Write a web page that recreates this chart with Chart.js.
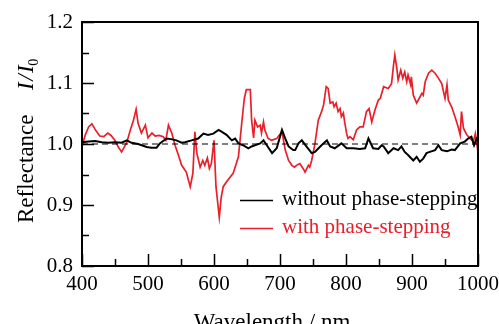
<!DOCTYPE html>
<html>
<head>
<meta charset="utf-8">
<script src="https://cdn.jsdelivr.net/npm/chart.js@4.4.1/dist/chart.umd.min.js"></script>
<style>
  html, body { margin: 0; padding: 0; background: #fff; }
  #wrap { width: 499px; height: 324px; }
</style>
</head>
<body>
<div id="wrap"><canvas id="reflChart" width="499" height="324"></canvas></div>
<script>
// wavelength axis / reflectance axis
var xTicks = [400, 500, 600, 700, 800, 900, 1000];
var yTicks = [0.8, 0.9, 1.0, 1.1, 1.2];

var seriesNames = ['without phase-stepping', 'with phase-stepping'];

// without phase-stepping (black)
var wlBlack = [400, 410, 420, 430, 440, 450, 460, 468, 475, 485, 498, 505, 513, 518, 528, 535, 543, 551, 556, 566,
    576, 584, 591, 599, 607, 612, 619, 627, 632, 637, 644, 652, 657, 662, 670, 675, 680, 688, 695, 703,
    708, 713, 720, 723, 728, 733, 740, 748, 753, 761, 771, 776, 783, 793, 801, 811, 821, 829, 834, 841,
    849, 854, 857, 864, 872, 879, 884, 889, 894, 902, 907, 912, 917, 922, 927, 935, 940, 945, 953, 960,
    965, 973, 980, 985, 990, 994, 998, 1000];
var reflBlack = [1.003, 1.004, 1.005, 1.003, 1.002, 1.003, 1.002, 1.006, 1.002, 1.000, 0.995, 0.994, 0.994, 1.001, 1.009, 1.008, 1.006, 1.002, 1.003, 1.006,
    1.009, 1.017, 1.015, 1.017, 1.023, 1.020, 1.015, 1.006, 1.009, 1.001, 0.998, 0.993, 0.996, 0.998, 1.001, 1.006, 0.998, 0.985, 0.993, 1.023,
    1.009, 0.996, 0.990, 0.990, 1.001, 1.006, 0.996, 0.985, 0.987, 0.996, 1.006, 0.996, 0.993, 1.001, 0.993, 0.993, 0.992, 0.993, 1.009, 0.993,
    0.992, 0.998, 0.996, 0.985, 0.993, 0.990, 0.996, 0.987, 0.982, 0.973, 0.979, 0.971, 0.976, 0.985, 0.987, 0.990, 0.998, 0.990, 0.988, 0.991,
    0.990, 1.001, 1.004, 1.009, 1.012, 0.998, 1.009, 1.006];

// with phase-stepping (red)
var wlRed = [400, 405, 410, 415, 421, 427, 433, 439, 444, 450, 455, 460, 464, 468, 473, 478, 482, 485, 490, 496,
    500, 506, 511, 517, 523, 527, 531, 536, 541, 546, 551, 558, 564, 568, 571, 574, 579, 583, 586, 590,
    593, 596, 600, 603, 606, 608, 611, 614, 619, 624, 629, 633, 637, 642, 646, 649, 655, 657, 660, 662,
    666, 670, 672, 675, 677, 682, 687, 695, 703, 708, 713, 718, 722, 725, 730, 735, 738, 743, 745, 748,
    753, 758, 763, 766, 770, 773, 776, 780, 782, 785, 788, 791, 793, 796, 798, 801, 803, 806, 811, 816,
    821, 826, 831, 835, 839, 844, 849, 852, 857, 864, 869, 872, 874, 877, 879, 883, 886, 889, 892, 894,
    898, 899, 902, 907, 911, 915, 917, 920, 925, 930, 935, 940, 945, 950, 953, 955, 960, 965, 970, 973,
    975, 978, 983, 988, 993, 996, 1000];
var reflRed = [0.996, 1.015, 1.028, 1.033, 1.022, 1.013, 1.012, 1.018, 1.014, 1.006, 0.995, 0.987, 0.995, 1.003, 1.022, 1.039, 1.057, 1.034, 1.018, 1.031,
    1.010, 1.018, 1.013, 1.014, 1.012, 1.006, 1.031, 1.018, 0.998, 0.982, 0.965, 0.954, 0.930, 0.952, 1.020, 0.985, 0.962, 0.973, 0.965, 0.977,
    0.960, 0.968, 1.006, 0.930, 0.900, 0.880, 0.913, 0.930, 0.938, 0.945, 0.952, 0.965, 0.979, 1.034, 1.075, 1.089, 1.089, 1.039, 1.010, 1.039,
    1.028, 1.031, 1.018, 1.036, 1.023, 1.009, 1.006, 1.009, 1.020, 0.990, 0.973, 0.965, 0.962, 0.965, 0.968, 0.960, 0.954, 0.965, 0.962, 0.973,
    1.001, 1.039, 1.053, 1.064, 1.094, 1.091, 1.067, 1.069, 1.061, 1.067, 1.053, 1.058, 1.045, 1.051, 1.036, 1.017, 1.009, 1.012, 1.007, 1.023,
    1.028, 1.028, 1.053, 1.058, 1.036, 1.056, 1.072, 1.075, 1.094, 1.091, 1.099, 1.129, 1.146, 1.124, 1.105, 1.121, 1.108, 1.118, 1.102, 1.113,
    1.097, 1.110, 1.080, 1.067, 1.075, 1.083, 1.080, 1.102, 1.116, 1.121, 1.116, 1.108, 1.099, 1.075, 1.097, 1.072, 1.061, 1.045, 1.028, 1.015,
    1.053, 1.026, 1.015, 1.009, 1.004, 1.017, 0.987];

// dashed reference line at I/I0 = 1
var wlUnity = [400, 1000];
var reflUnity = [1.0, 1.0];

var RED = '#e8202a';
var SERIF = '"Liberation Serif", "DejaVu Serif", serif';

function toPoints(xs, ys) {
    return xs.map(function (x, i) { return { x: x, y: ys[i] }; });
}

// inward ticks, frame, axis titles and legend
var framePlugin = {
    id: 'frame',
    afterDraw: function (chart) {
        var ctx = chart.ctx;
        var a = chart.chartArea;
        var xs = chart.scales.x, ys = chart.scales.y;
        ctx.save();
        ctx.strokeStyle = '#000';
        ctx.lineWidth = 1.5;
        ctx.beginPath();
        xTicks.forEach(function (v, i) {
            var px = Math.round(xs.getPixelForValue(v)) + 0.5;
            ctx.moveTo(px, a.bottom); ctx.lineTo(px, a.bottom - 12);
            if (i < xTicks.length - 1) {
                var pm = Math.round(xs.getPixelForValue((v + xTicks[i + 1]) / 2)) + 0.5;
                ctx.moveTo(pm, a.bottom); ctx.lineTo(pm, a.bottom - 7);
            }
        });
        yTicks.forEach(function (v, i) {
            var py = Math.round(ys.getPixelForValue(v)) + 0.5;
            ctx.moveTo(a.left, py); ctx.lineTo(a.left + 12, py);
            if (i < yTicks.length - 1) {
                var pm = Math.round(ys.getPixelForValue((v + yTicks[i + 1]) / 2)) + 0.5;
                ctx.moveTo(a.left, pm); ctx.lineTo(a.left + 7, pm);
            }
        });
        ctx.stroke();
        ctx.lineWidth = 2;
        ctx.strokeRect(a.left, a.top, a.right - a.left, a.bottom - a.top);

        // x title
        ctx.fillStyle = '#000';
        ctx.font = '23px ' + SERIF;
        ctx.textAlign = 'center';
        ctx.textBaseline = 'alphabetic';
        ctx.fillText('Wavelength / nm', 272, 329);

        // y title, rotated
        ctx.translate(33, 223);
        ctx.rotate(-Math.PI / 2);
        ctx.textAlign = 'left';
        ctx.fillText('Reflectance', 0, 0);
        var x0 = 133;
        ctx.font = 'italic 23px ' + SERIF;
        ctx.fillText('I', x0, 0);
        x0 += ctx.measureText('I').width + 1.5;
        ctx.fillText('/', x0, 0);
        x0 += ctx.measureText('/').width + 1.5;
        ctx.fillText('I', x0, 0);
        x0 += ctx.measureText('I').width - 0.5;
        ctx.font = '14px ' + SERIF;
        ctx.fillText('0', x0, 5);
        ctx.restore();

        // legend
        ctx.save();
        ctx.font = '21px ' + SERIF;
        ctx.textAlign = 'left';
        ctx.textBaseline = 'alphabetic';
        var rows = [{ c: '#000', y: 200.5, b: 205 }, { c: RED, y: 228.5, b: 233 }];
        rows.forEach(function (r, i) {
            ctx.strokeStyle = r.c;
            ctx.lineWidth = 1.5;
            ctx.beginPath();
            ctx.moveTo(240, r.y); ctx.lineTo(273, r.y);
            ctx.stroke();
            ctx.fillStyle = r.c;
            ctx.fillText(seriesNames[i], 282, r.b);
        });
        ctx.restore();
    }
};

var ctx = document.getElementById('reflChart').getContext('2d');
window.reflChart = new Chart(ctx, {
    type: 'line',
    data: {
        datasets: [
            {
                label: 'unity',
                data: toPoints(wlUnity, reflUnity),
                borderColor: '#000',
                borderWidth: 1,
                borderDash: [6, 4],
                pointRadius: 0
            },
            {
                label: seriesNames[0],
                data: toPoints(wlBlack, reflBlack),
                borderColor: '#000',
                borderWidth: 2,
                pointRadius: 0,
                tension: 0
            },
            {
                label: seriesNames[1],
                data: toPoints(wlRed, reflRed),
                borderColor: RED,
                borderWidth: 1.7,
                pointRadius: 0,
                tension: 0
            }
        ]
    },
    options: {
        responsive: false,
        animation: false,
        devicePixelRatio: 1,
        layout: { padding: { top: 22, right: 21, left: 0, bottom: 0 } },
        plugins: {
            legend: { display: false },
            tooltip: { enabled: false }
        },
        scales: {
            x: {
                type: 'linear',
                min: 400,
                max: 1000,
                grid: { display: false, drawTicks: false },
                border: { display: false },
                ticks: {
                    stepSize: 100,
                    padding: 6,
                    color: '#000',
                    maxRotation: 0,
                    font: { family: SERIF, size: 21 },
                    callback: function (value) {
                        return String(value);
                    }
                },
                afterFit: function (s) {
                    s.height = 58;
                    s.paddingLeft = 0;
                    s.paddingRight = 0;
                }
            },
            y: {
                min: 0.8,
                max: 1.2,
                grid: { display: false, drawTicks: false },
                border: { display: false },
                ticks: {
                    stepSize: 0.1,
                    padding: 9,
                    color: '#000',
                    font: { family: SERIF, size: 21 },
                    callback: function (value) {
                        return value.toFixed(1);
                    }
                },
                afterFit: function (s) {
                    s.width = 82;
                    s.paddingTop = 0;
                    s.paddingBottom = 0;
                }
            }
        }
    },
    plugins: [framePlugin]
});
</script>
</body>
</html>
